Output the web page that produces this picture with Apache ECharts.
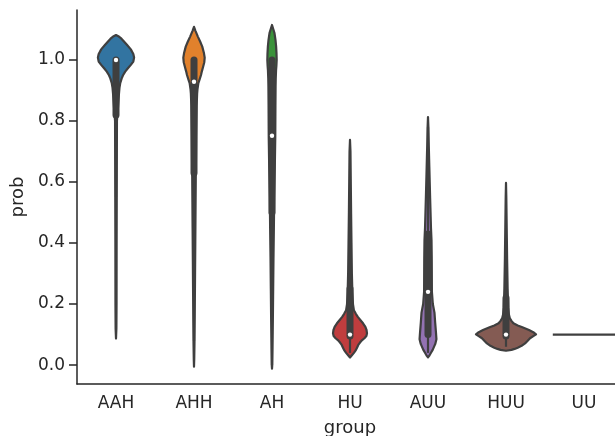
<!DOCTYPE html>
<html>
<head>
<meta charset="utf-8">
<script src="https://cdn.jsdelivr.net/npm/echarts@6/dist/echarts.min.js"></script>
<style>
  html, body { margin: 0; padding: 0; background: #ffffff; }
  #chart { width: 615px; height: 436px; }
</style>
</head>
<body>
<div id="chart"></div>
<script>
// Groups along the x axis
const categories = ['AAH', 'AHH', 'AH', 'HU', 'AUU', 'HUU', 'UU'];

// Tick labels on the probability axis
const yTicks = [0.0, 0.2, 0.4, 0.6, 0.8, 1.0];

// Box summary per group (inner box of each violin)
const whiskerLow  = [0.55, 0.08, 0.00, 0.04, 0.04, 0.06, null];
const boxQ1       = [0.82, 0.63, 0.50, 0.095, 0.10, 0.095, null];
const boxMedian   = [1.00, 0.929, 0.752, 0.10, 0.24, 0.10, 0.10];
const boxQ3       = [1.00, 1.00, 1.00, 0.25, 0.43, 0.22, null];
const whiskerHigh = [1.00, 1.00, 1.00, 0.49, 0.78, 0.415, null];

// Kernel density profiles: [prob, half width in category units], top to bottom
const densityAAH = [[1.082,0],[1.078,0.03],[1.07,0.07],[1.05,0.14],[1.035,0.19],[1.02,0.222],[1.008,0.232],
  [0.995,0.222],[0.984,0.19],[0.972,0.15],[0.962,0.118],[0.95,0.09],[0.94,0.073],[0.925,0.055],[0.91,0.045],
  [0.89,0.038],[0.86,0.03],[0.8,0.012],[0.6,0.01],[0.4,0.008],[0.2,0.007],[0.12,0.005],[0.087,0]];
const densityAHH = [[1.109,0],[1.095,0.02],[1.076,0.051],[1.06,0.08],[1.044,0.106],[1.022,0.128],[1.008,0.137],
  [0.993,0.132],[0.978,0.117],[0.962,0.1],[0.951,0.09],[0.935,0.07],[0.924,0.056],[0.905,0.045],[0.89,0.04],
  [0.85,0.034],[0.75,0.028],[0.65,0.024],[0.55,0.021],[0.45,0.018],[0.35,0.015],[0.25,0.012],[0.15,0.009],
  [0.07,0.006],[0.02,0.003],[-0.005,0]];
const densityAH = [[1.115,0],[1.1,0.018],[1.088,0.032],[1.065,0.045],[1.044,0.053],[1.02,0.058],[1.0,0.06],
  [0.98,0.056],[0.967,0.052],[0.94,0.048],[0.913,0.046],[0.85,0.044],[0.75,0.042],[0.65,0.036],[0.55,0.028],
  [0.45,0.024],[0.35,0.019],[0.25,0.015],[0.15,0.011],[0.05,0.006],[0.0,0.003],[-0.012,0]];
const densityHU = [[0.738,0],[0.7,0.006],[0.6,0.01],[0.5,0.014],[0.4,0.019],[0.3,0.024],[0.24,0.03],[0.2,0.038],
  [0.18,0.05],[0.168,0.075],[0.158,0.1],[0.147,0.135],[0.137,0.167],[0.125,0.197],[0.115,0.212],[0.104,0.218],
  [0.095,0.21],[0.088,0.185],[0.082,0.156],[0.074,0.128],[0.066,0.106],[0.057,0.09],[0.049,0.075],[0.04,0.05],
  [0.033,0.027],[0.025,0]];
const densityAUU = [[0.813,0],[0.78,0.005],[0.72,0.01],[0.65,0.017],[0.55,0.027],[0.45,0.038],[0.41,0.045],
  [0.35,0.048],[0.3,0.049],[0.24,0.05],[0.2,0.062],[0.172,0.083],[0.139,0.092],[0.107,0.102],[0.085,0.108],
  [0.07,0.094],[0.063,0.082],[0.05,0.06],[0.041,0.04],[0.032,0.02],[0.025,0]];
const densityHUU = [[0.597,0],[0.55,0.004],[0.45,0.009],[0.35,0.014],[0.25,0.021],[0.19,0.028],[0.165,0.038],
  [0.153,0.05],[0.145,0.07],[0.137,0.095],[0.13,0.15],[0.124,0.21],[0.115,0.295],[0.108,0.35],[0.101,0.385],
  [0.095,0.35],[0.088,0.308],[0.079,0.275],[0.071,0.244],[0.063,0.2],[0.057,0.15],[0.053,0.11],[0.05,0.07],
  [0.047,0]];
// Single-valued group: collapses to a flat line
const densityUU = [[0.1,0.4]];

const densities = [densityAAH, densityAHH, densityAH, densityHU, densityAUU, densityHUU, densityUU];

const palette = ['#3274a1', '#e1812c', '#3a923a', '#c03d3e', '#9372b2', '#845b53', '#d684bd'];
const edgeGray = '#3f3f3f';
const textColor = '#262626';
const font = 'DejaVu Sans';

function renderViolin(params, api) {
  const i = api.value(0);
  const cx = api.coord([i, 0])[0];
  const band = Math.abs(api.coord([1, 0])[0] - api.coord([0, 0])[0]);
  const yAt = v => api.coord([i, v])[1];
  const dens = densities[i];
  const children = [];

  if (dens.length === 1) {
    const v = dens[0][0], w = dens[0][1] * band;
    children.push({
      type: 'line',
      shape: { x1: cx - w, y1: yAt(v), x2: cx + w, y2: yAt(v) },
      style: { stroke: edgeGray, lineWidth: 2.2 }
    });
    return { type: 'group', children };
  }

  const pts = [];
  dens.forEach(d => pts.push([cx + d[1] * band, yAt(d[0])]));
  for (let k = dens.length - 1; k >= 0; k--) {
    pts.push([cx - dens[k][1] * band, yAt(dens[k][0])]);
  }
  children.push({
    type: 'polygon',
    shape: { points: pts },
    style: { fill: palette[i], stroke: edgeGray, lineWidth: 2.2, lineJoin: 'round' }
  });
  children.push({
    type: 'line',
    shape: { x1: cx, y1: yAt(whiskerLow[i]), x2: cx, y2: yAt(whiskerHigh[i]) },
    style: { stroke: edgeGray, lineWidth: 2.2 }
  });
  children.push({
    type: 'line',
    shape: { x1: cx, y1: yAt(boxQ1[i]), x2: cx, y2: yAt(boxQ3[i]) },
    style: { stroke: edgeGray, lineWidth: 7, lineCap: 'round' }
  });
  children.push({
    type: 'circle',
    shape: { cx: cx, cy: yAt(boxMedian[i]), r: 2.2 },
    style: { fill: '#ffffff' }
  });
  return { type: 'group', children };
}

const chart = echarts.init(document.getElementById('chart'), null, { renderer: 'canvas' });
chart.setOption({
  animation: false,
  backgroundColor: '#ffffff',
  grid: { left: 77, top: 10, width: 546, height: 374, containLabel: false, outerBoundsMode: 'none' },
  xAxis: {
    type: 'category',
    data: categories,
    boundaryGap: true,
    name: 'group',
    nameLocation: 'middle',
    nameGap: 35,
    nameTextStyle: { color: textColor, fontSize: 18, fontFamily: font },
    axisLine: { onZero: false, lineStyle: { color: textColor, width: 1.5 } },
    axisTick: { alignWithLabel: true, length: 8, lineStyle: { color: textColor, width: 1.5 } },
    axisLabel: { color: textColor, fontSize: 17, fontFamily: font, margin: 11 },
    splitLine: { show: false }
  },
  yAxis: {
    type: 'value',
    min: -0.062,
    max: 1.164,
    name: 'prob',
    nameLocation: 'middle',
    nameRotate: 90,
    nameGap: 40,
    nameTextStyle: { color: textColor, fontSize: 18, fontFamily: font },
    axisLine: { show: true, lineStyle: { color: textColor, width: 1.5 } },
    axisTick: { show: true, length: 8, customValues: yTicks, lineStyle: { color: textColor, width: 1.5 } },
    axisLabel: {
      color: textColor, fontSize: 17, fontFamily: font, margin: 12,
      customValues: yTicks,
      formatter: v => v.toFixed(1)
    },
    splitLine: { show: false }
  },
  series: [{
    type: 'custom',
    renderItem: renderViolin,
    clip: false,
    data: categories.map((c, i) => [i]),
    encode: { x: 0 }
  }]
});
</script>
</body>
</html>
